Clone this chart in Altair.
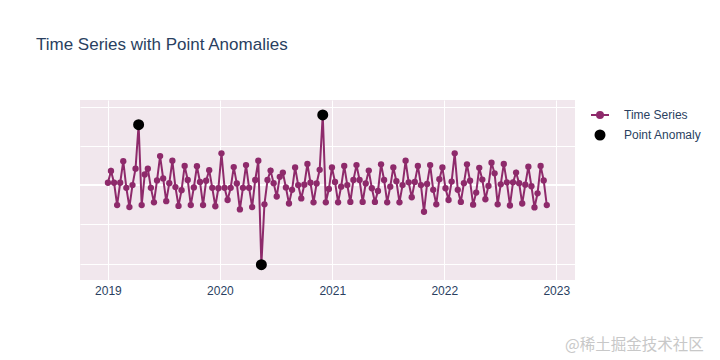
import altair as alt
import pandas as pd

TITLE = "Time Series with Point Anomalies"
SERIES_NAMES = ["Time Series", "Point Anomaly"]
WATERMARK = "@稀土掘金技术社区"
START = "2019-01-01"
STEP = "10D"

values = [
    0.06, 0.36, 0.06, -0.51, 0.06, 0.61, -0.07, -0.56, 0.00, 0.42,
    1.54, -0.51, 0.27, 0.42, -0.07, -0.44, 0.12, 0.74, 0.17, -0.41,
    0.05, 0.62, -0.05, -0.53,
    -0.13, 0.49, 0.13, -0.51, -0.06, 0.48, 0.08, -0.51, 0.11, 0.38,
    -0.07, -0.54, -0.08, 0.81, -0.07, -0.38, -0.07, 0.46, 0.04, -0.62,
    -0.07, 0.51, -0.07, -0.56, 0.13,
    0.62, -2.03, -0.49, 0.13, 0.37, 0.05, -0.29, 0.21, 0.32, -0.06,
    -0.47, -0.12, 0.45, 0.00, -0.34, 0.01, 0.54, 0.06, -0.44, 0.04,
    0.39, 1.79, -0.44, -0.10, 0.45, 0.08, -0.44, -0.04, 0.49, 0.00,
    -0.43, 0.13, 0.51, 0.13, -0.43, 0.04, 0.37, -0.08, -0.43, -0.15,
    0.53, 0.13, -0.44, -0.04, 0.45, 0.10, -0.44, 0.00, 0.62, 0.07,
    -0.31, 0.08, 0.49, 0.00, -0.68, 0.03, 0.51, -0.12, -0.49, 0.15,
    0.45, -0.08, -0.38, 0.09, 0.81, -0.12, -0.43, 0.05, 0.53, 0.11,
    -0.50, -0.19, 0.44, 0.14, -0.36, -0.02, 0.57, 0.30, -0.49, 0.02,
    0.54, 0.07, -0.52, 0.07, 0.32, 0.05, -0.47, 0.01, 0.47, -0.03,
    -0.57, -0.21, 0.49, 0.12, -0.51,
]
anomaly_idx = [10, 50, 70]
year_ticks = [2019, 2020, 2021, 2022, 2023]
y_grid = [-2, -1, 0, 1, 2]

PURPLE = "#8e2a6b"
BG = "#f1e7ed"
TXT = "#2a3f5f"
FONT = "Liberation Sans"

dates = pd.date_range(START, periods=len(values), freq=STEP)
ts = pd.DataFrame({"date": dates.strftime("%Y-%m-%d"), "value": values})
an = ts.iloc[anomaly_idx].copy()
an["series"] = SERIES_NAMES[1]
wm = pd.DataFrame({"text": [WATERMARK]})

x_enc = alt.X(
    "date:T",
    scale=alt.Scale(
        type="utc",
        domain=[alt.DateTime(year=2018, month=10, date=2, utc=True),
                alt.DateTime(year=2023, month=3, date=3, utc=True)],
    ),
    axis=alt.Axis(
        values=[alt.DateTime(year=y, month=1, date=1, utc=True) for y in year_ticks],
        format="%Y", title=None, grid=True, gridColor="white", gridWidth=1,
        domain=False, ticks=False, tickSize=0, labelPadding=5,
        labelFontSize=12, labelColor=TXT, labelFont=FONT,
    ),
)
y_enc = alt.Y(
    "value:Q",
    scale=alt.Scale(domain=[-2.42, 2.17], nice=False, zero=False),
    axis=alt.Axis(values=y_grid, labels=False, ticks=False, domain=False,
                  title=None, grid=True, gridColor="white", gridWidth=1),
)

base = alt.Chart(ts)

zero = alt.Chart(wm).mark_rule(color="white", strokeWidth=2).encode(y=alt.datum(0))
line = base.mark_line(color=PURPLE, strokeWidth=2).encode(x=x_enc, y=y_enc)
pts = base.mark_circle(color=PURPLE, size=40, opacity=1).encode(x=x_enc, y=y_enc)

legend_path = "M-3,0H3M1,0A1,1,0,1,1,-1,0A1,1,0,1,1,1,0Z"
sc_dom = SERIES_NAMES
anom = alt.Chart(an).mark_point(filled=True, opacity=1, strokeWidth=2).encode(
    x=x_enc, y=y_enc,
    fill=alt.Fill("series:N", scale=alt.Scale(domain=sc_dom, range=[PURPLE, "black"]), legend=alt.Legend(title=None)),
    stroke=alt.Stroke("series:N", scale=alt.Scale(domain=sc_dom, range=[PURPLE, "black"]), legend=alt.Legend(title=None)),
    shape=alt.Shape("series:N", scale=alt.Scale(domain=sc_dom, range=[legend_path, "circle"]), legend=alt.Legend(title=None)),
    size=alt.Size("series:N", scale=alt.Scale(domain=sc_dom, range=[36, 81]), legend=alt.Legend(title=None)),
)

watermark = alt.Chart(wm).mark_text(
    align="left", baseline="middle",
    font="Noto Sans CJK SC", fontSize=15.5, color="#c8c8c8",
).encode(text="text:N", x=alt.value(485), y=alt.value(245))

chart = alt.layer(zero, line, pts, anom, watermark).properties(
    width=495, height=180,
    background="white",
    title=alt.TitleParams(
        TITLE, anchor="start", frame="group", dx=-44, offset=33,
        baseline="alphabetic", fontSize=17, font=FONT, color=TXT, fontWeight="normal",
    ),
    autosize=alt.AutoSizeParams(type="none"),
    padding={"left": 72, "top": 92, "right": 135, "bottom": 75},
).configure_view(
    fill=BG, strokeWidth=0,
).configure_legend(
    orient="none", legendX=514, legendY=9, padding=0,
    labelFontSize=12, labelColor=TXT, labelFont=FONT, labelOffset=18,
    rowPadding=4, symbolStrokeWidth=2,
)

chart.save("out.html", embed_options={"renderer": "svg", "actions": False})
